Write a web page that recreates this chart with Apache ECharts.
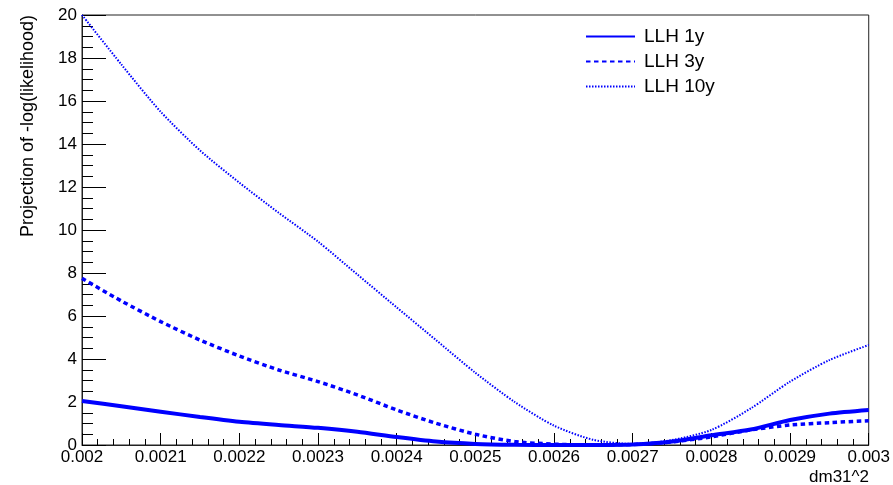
<!DOCTYPE html>
<html>
<head>
<meta charset="utf-8">
<script src="https://cdn.jsdelivr.net/npm/echarts@6/dist/echarts.min.js"></script>
<style>html,body{margin:0;padding:0;background:#fff}#c{width:893px;height:485px}</style>
</head>
<body>
<div id="c"></div>
<script>
var dm31 = [0.00200,0.00205,0.00210,0.00215,0.00220,0.00225,0.00230,0.00235,0.00240,0.00245,0.00250,0.00255,0.00260,0.00265,0.00270,0.00275,0.00280,0.00285,0.00290,0.00295,0.00300];
var llh1y = [2.05,1.80,1.55,1.30,1.08,0.93,0.80,0.62,0.37,0.16,0.05,0.01,0.00,0.00,0.02,0.16,0.45,0.72,1.16,1.46,1.63];
var llh3y = [7.75,6.70,5.74,4.88,4.14,3.49,2.95,2.33,1.63,1.01,0.50,0.16,0.04,0.00,0.02,0.14,0.38,0.70,0.93,1.04,1.13];
var llh10y = [20.0,17.7,15.5,13.7,12.2,10.8,9.46,7.93,6.40,4.88,3.36,2.00,0.90,0.24,0.05,0.23,0.70,1.70,2.95,3.95,4.65];
var seriesNames = ['LLH 1y','LLH 3y','LLH 10y'];
var xTitle = 'dm31^2';
var yTitle = 'Projection of -log(likelihood)';

function pairs(ys){ return dm31.map(function(x,i){ return [x, ys[i]]; }); }
var FONT = 'Liberation Sans, Arial, Helvetica, sans-serif';
var chart = echarts.init(document.getElementById('c'));
chart.setOption({
  animation: false,
  backgroundColor: '#fff',
  grid: {left: 82, right: 24, top: 15, bottom: 40, show: true, borderColor: '#222', borderWidth: 1, backgroundColor: 'transparent'},
  legend: {
    orient: 'vertical', left: 580, top: 22, itemWidth: 49, itemHeight: 14, itemGap: 6,
    itemStyle: {opacity: 0},
    textStyle: {fontSize: 19, fontFamily: FONT, color: '#000', padding: [0,0,0,4]},
    data: seriesNames
  },
  xAxis: {
    type: 'value', min: 0.002, max: 0.003, interval: 0.0001,
    axisLine: {onZero: false, lineStyle: {color: '#222', width: 1}},
    axisTick: {inside: true, length: 12, lineStyle: {color: '#000'}},
    minorTick: {show: true, splitNumber: 5, length: 6, lineStyle: {color: '#000'}},
    splitLine: {show: false},
    axisLabel: {margin: 4, fontSize: 17, fontFamily: FONT, color: '#000',
      formatter: function(v){ return String(+v.toFixed(4)); }}
  },
  yAxis: {
    type: 'value', min: 0, max: 20, interval: 2,
    axisLine: {show: true, lineStyle: {color: '#222', width: 1}},
    axisTick: {inside: true, length: 24, lineStyle: {color: '#000'}},
    minorTick: {show: true, splitNumber: 4, length: 11, lineStyle: {color: '#000'}},
    splitLine: {show: false},
    axisLabel: {margin: 5, fontSize: 17, fontFamily: FONT, color: '#000'}
  },
  graphic: [
    {type: 'text', x: 28, y: 15, rotation: Math.PI/2,
     style: {text: yTitle, fontSize: 18, fontFamily: FONT, fill: '#000', textAlign: 'right', textVerticalAlign: 'middle'}},
    {type: 'text', x: 869, y: 477,
     style: {text: xTitle, fontSize: 17, fontFamily: FONT, fill: '#000', textAlign: 'right', textVerticalAlign: 'middle'}}
  ],
  series: [
    {name: seriesNames[0], type: 'line', data: pairs(llh1y), symbol: 'none', symbolSize: 0, smooth: 0.25,
     lineStyle: {color: '#0000ff', width: 4, type: 'solid'}, itemStyle: {color: '#0000ff'}},
    {name: seriesNames[1], type: 'line', data: pairs(llh3y), symbol: 'none', symbolSize: 0, smooth: 0.25,
     lineStyle: {color: '#0000ff', width: 3.5, type: [4.5, 3.5]}, itemStyle: {color: '#0000ff'}},
    {name: seriesNames[2], type: 'line', data: pairs(llh10y), symbol: 'none', symbolSize: 0, smooth: 0.25,
     lineStyle: {color: '#0000ff', width: 2, type: [1.5, 1.5]}, itemStyle: {color: '#0000ff'}}
  ]
});
</script>
</body>
</html>
